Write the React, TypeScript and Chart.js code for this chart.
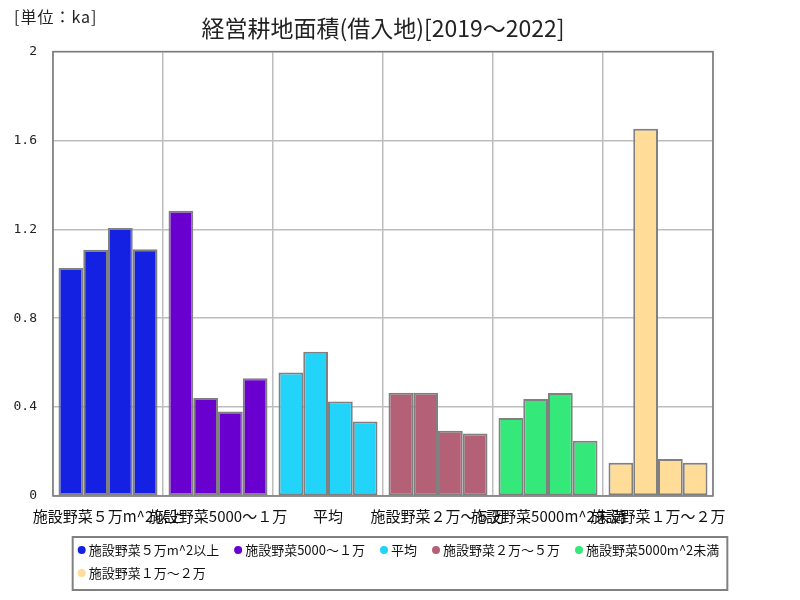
import React, { useEffect, useRef } from "react";
import { Chart, registerables } from "chart.js";

Chart.register(...registerables);

const TITLE = "経営耕地面積(借入地)[2019～2022]";
const UNIT_LABEL = "[単位：ka]";

const categories = [
  "施設野菜５万m^2以上",
  "施設野菜5000～１万",
  "平均",
  "施設野菜２万～５万",
  "施設野菜5000m^2未満",
  "施設野菜１万～２万",
];
const years = ["2019", "2020", "2021", "2022"];
const categoryColors = ["#1421E2", "#6A00CF", "#22D3FA", "#B46178", "#34E87A", "#FFDC98"];

const values5manIjou = [1.026, 1.108, 1.206, 1.111];
const values5000to1man = [1.284, 0.441, 0.38, 0.53];
const valuesHeikin = [0.556, 0.649, 0.425, 0.335];
const values2manTo5man = [0.465, 0.465, 0.294, 0.281];
const values5000Miman = [0.351, 0.437, 0.464, 0.249];
const values1manTo2man = [0.15, 1.653, 0.167, 0.15];

const seriesByCategory = [
  values5manIjou,
  values5000to1man,
  valuesHeikin,
  values2manTo5man,
  values5000Miman,
  values1manTo2man,
];

const yTickValues = [0, 0.4, 0.8, 1.2, 1.6, 2];

const FONT = '"Noto Sans CJK JP", "Noto Sans", sans-serif';

const framePlugin = {
  id: "frame",
  beforeDatasetsDraw(chart: any) {
    const { ctx, chartArea } = chart;
    ctx.save();
    ctx.strokeStyle = "#7a7a7a";
    ctx.lineWidth = 1.5;
    ctx.strokeRect(chartArea.left, chartArea.top, chartArea.right - chartArea.left, chartArea.bottom - chartArea.top);
    ctx.restore();
  },
};

const extrasPlugin = {
  id: "extras",
  afterDraw(chart: any) {
    const { ctx } = chart;
    ctx.save();
    // unit label
    ctx.font = `16px ${FONT}`;
    ctx.fillStyle = "#222";
    ctx.textBaseline = "middle";
    ctx.textAlign = "left";
    try { (ctx as any).letterSpacing = "1px"; } catch (e) {}
    ctx.fillText(UNIT_LABEL, 14, 17);
    try { (ctx as any).letterSpacing = "0px"; } catch (e) {}

    // boxed legend
    ctx.font = `13px ${FONT}`;
    const r = 4;
    const gapText = 3;
    const itemPad = 15;
    const wrapWidth = chart.width - 100;
    const items = categories.map((c, i) => ({
      text: c,
      color: categoryColors[i],
      w: 2 * r + gapText + ctx.measureText(c).width,
    }));
    const rows: any[][] = [[]];
    let rowW = 0;
    items.forEach((it) => {
      const add = (rows[rows.length - 1].length ? itemPad : 0) + it.w;
      if (rows[rows.length - 1].length && rowW + add > wrapWidth) {
        rows.push([it]);
        rowW = it.w;
      } else {
        rows[rows.length - 1].push(it);
        rowW += add;
      }
    });
    const rowWidths = rows.map((row) => row.reduce((s, it, i) => s + it.w + (i ? itemPad : 0), 0));
    const maxW = Math.max(...rowWidths);
    const padL = 5;
    const padR = 8;
    const boxW = maxW + padL + padR;
    const boxLeft = (chart.width - boxW) / 2;
    const boxTop = chart.chartArea.bottom + 41;
    const rowH = 23;
    const boxH = rows.length * rowH + 7;
    ctx.strokeStyle = "#808080";
    ctx.lineWidth = 2;
    ctx.strokeRect(boxLeft, boxTop, boxW, boxH);
    rows.forEach((row, ri) => {
      let x = boxLeft + padL;
      const y = boxTop + 13 + ri * rowH;
      row.forEach((it) => {
        ctx.beginPath();
        ctx.fillStyle = it.color;
        ctx.arc(x + r, y, r, 0, Math.PI * 2);
        ctx.fill();
        ctx.fillStyle = "#111";
        ctx.textBaseline = "middle";
        ctx.fillText(it.text, x + 2 * r + gapText, y + 0.5);
        x += it.w + itemPad;
      });
    });
    ctx.restore();
  },
};

export default function App() {
  const ref = useRef<HTMLCanvasElement | null>(null);
  useEffect(() => {
    if (!ref.current) return;
    const datasets = years.map((y, yi) => ({
      label: y,
      data: seriesByCategory.map((s) => s[yi]),
      backgroundColor: categoryColors,
      borderColor: "#808080",
      borderWidth: 2,
      borderSkipped: false,
      categoryPercentage: 0.9,
      barPercentage: 1,
    }));
    const chart = new Chart(ref.current, {
      type: "bar",
      data: { labels: categories, datasets },
      options: {
        animation: false,
        responsive: false,
        maintainAspectRatio: false,
        layout: { padding: { left: 14, right: 87, top: 0, bottom: 76 } },
        plugins: {
          legend: { display: false },
          tooltip: { enabled: false },
          title: {
            display: true,
            text: TITLE,
            fullSize: false,
            color: "#222",
            font: { family: FONT, size: 23, weight: "normal", lineHeight: 1.2 },
            padding: { top: 14, bottom: 10 },
          },
        },
        scales: {
          x: {
            grid: { color: "#bdbdbd", lineWidth: 1.5, drawTicks: false, offset: true },
            border: { display: false },
            ticks: {
              autoSkip: false,
              maxRotation: 0,
              minRotation: 0,
              padding: 11,
              color: "#111",
              font: { family: FONT, size: 15 },
            },
            afterFit: (scale: any) => {
              scale.height = 28;
            },
          },
          y: {
            min: 0,
            max: 2,
            grid: { color: "#bdbdbd", lineWidth: 1.5, drawTicks: false },
            border: { display: false },
            afterBuildTicks: (scale: any) => {
              scale.ticks = yTickValues.map((v) => ({ value: v }));
            },
            afterFit: (scale: any) => {
              scale.width = 39;
            },
            ticks: {
              padding: 16,
              color: "#222",
              font: { family: '"DejaVu Sans Mono", monospace', size: 13 },
              callback: (v: any) => String(Number(Number(v).toFixed(1))),
            },
          },
        },
      },
      plugins: [framePlugin, extrasPlugin],
    });
    return () => chart.destroy();
  }, []);
  return (
    <div style={{ position: "absolute", left: 0, top: 0, width: 800, height: 600, background: "#fff" }}>
      <canvas ref={ref} width={800} height={600} style={{ width: 800, height: 600 }} />
    </div>
  );
}
